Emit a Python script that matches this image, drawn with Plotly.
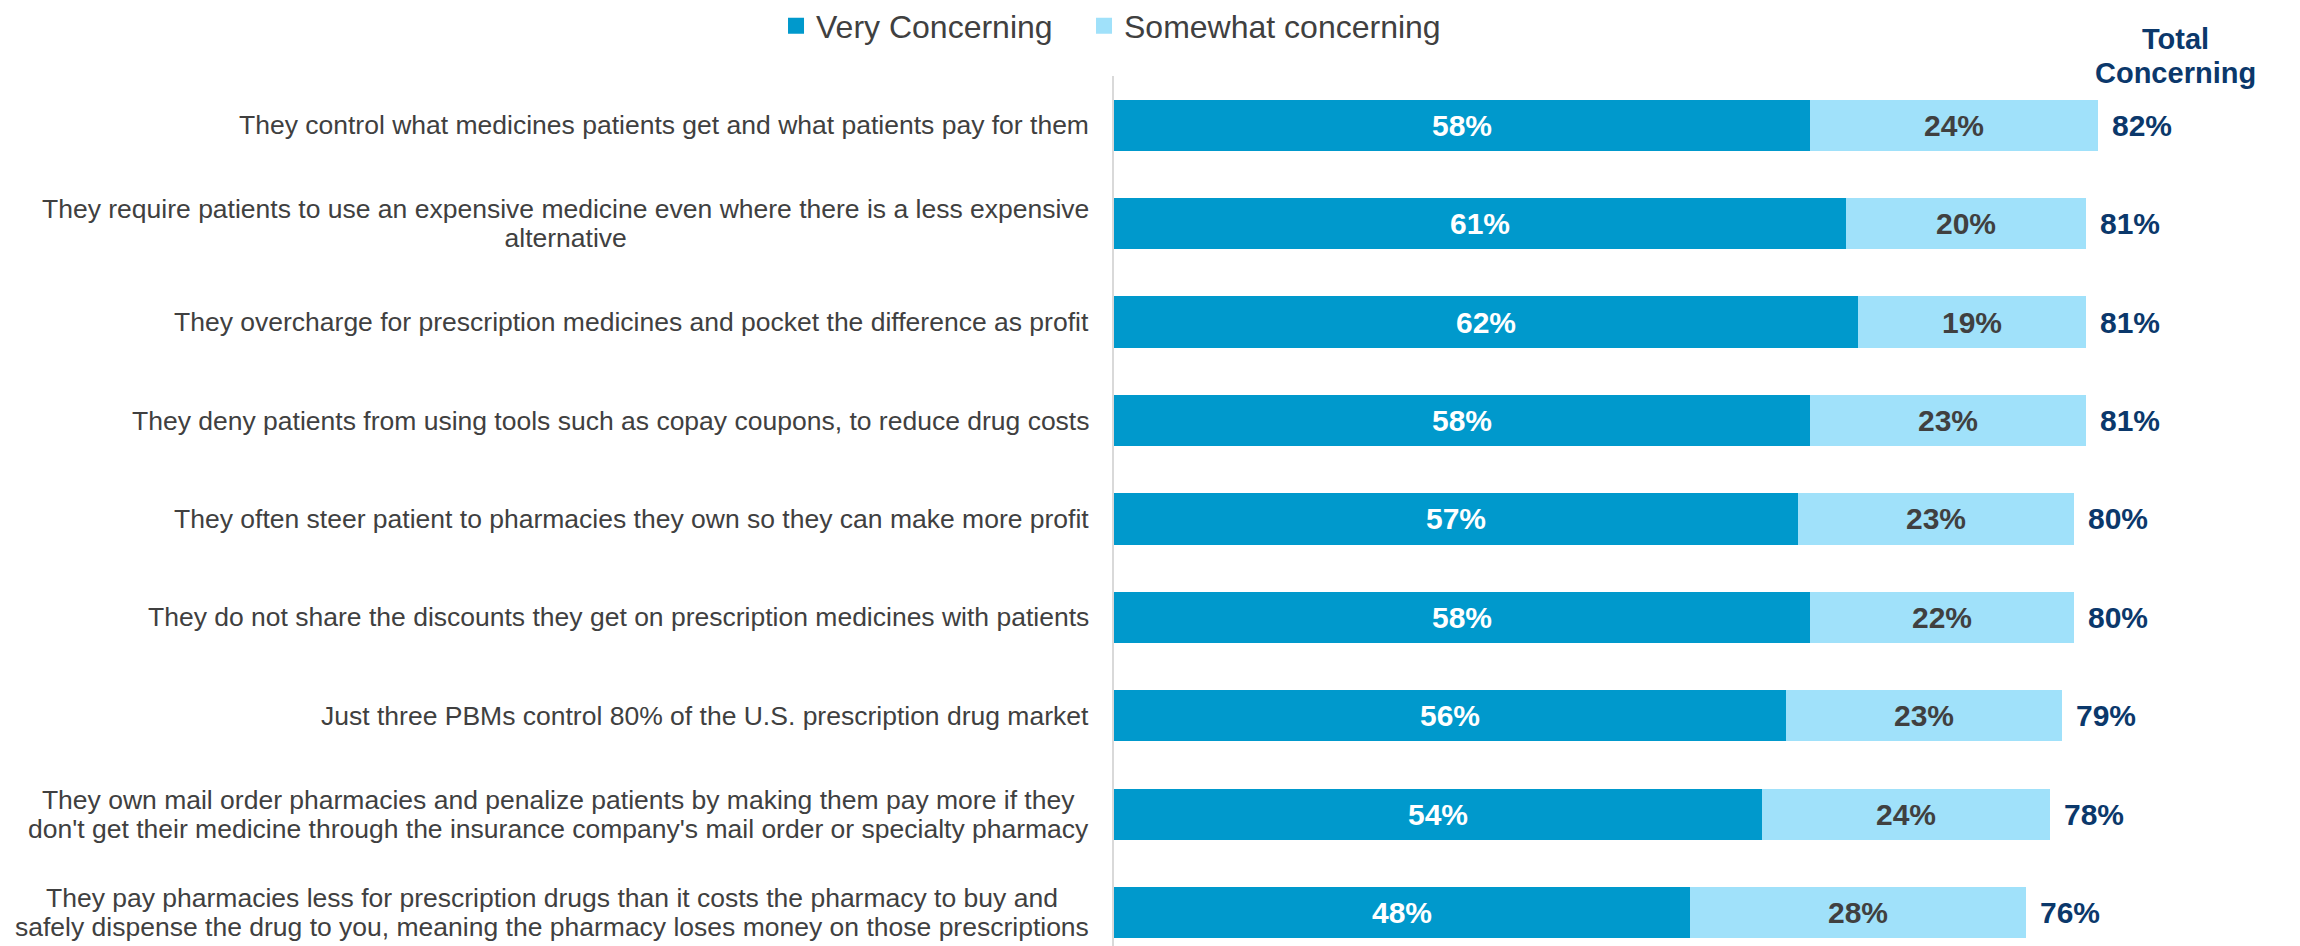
import plotly.graph_objects as go

categories = [
    "They control what medicines patients get and what patients pay for them",
    "They require patients to use an expensive medicine even where there is a less expensive<br>alternative",
    "They overcharge for prescription medicines and pocket the difference as profit",
    "They deny patients from using tools such as copay coupons, to reduce drug costs",
    "They often steer patient to pharmacies they own so they can make more profit",
    "They do not share the discounts they get on prescription medicines with patients",
    "Just three PBMs control 80% of the U.S. prescription drug market",
    "They own mail order pharmacies and penalize patients by making them pay more if they<br>don't get their medicine through the insurance company's mail order or specialty pharmacy",
    "They pay pharmacies less for prescription drugs than it costs the pharmacy to buy and<br>safely dispense the drug to you, meaning the pharmacy loses money on those prescriptions",
]
very = [58, 61, 62, 58, 57, 58, 56, 54, 48]
somewhat = [24, 20, 19, 23, 23, 22, 23, 24, 28]
total = [82, 81, 81, 81, 80, 80, 79, 78, 76]
series_names = ["Very Concerning", "Somewhat concerning"]
header = ["Total", "Concerning"]

FONT = "Liberation Sans, Arial, sans-serif"
DARK = "#0099cc"
LIGHT = "#a0e1fa"
NAVY = "#0b386b"
GRAY = "#404040"

idx = list(range(len(categories)))

fig = go.Figure()
fig.add_trace(go.Bar(
    y=idx, x=very, orientation="h", name=series_names[0], showlegend=False,
    marker=dict(color=DARK, line=dict(width=0)),
    text=[f"<b>{v}%</b>" for v in very], textposition="inside",
    insidetextanchor="middle", textangle=0,
    textfont=dict(family=FONT, size=30, color="white"),
))
fig.add_trace(go.Bar(
    y=idx, x=somewhat, orientation="h", name=series_names[1], showlegend=False,
    marker=dict(color=LIGHT, line=dict(width=0)),
    text=[f"<b>{v}%</b>" for v in somewhat], textposition="inside",
    insidetextanchor="middle", textangle=0,
    textfont=dict(family=FONT, size=30, color=GRAY),
))
# legend-only entries (square swatches)
for name, col, lg in [(series_names[0], DARK, "legend"), (series_names[1], LIGHT, "legend2")]:
    fig.add_trace(go.Scatter(
        x=[None], y=[None], mode="markers", name=name, legend=lg,
        marker=dict(symbol="square", size=16, color=col, line=dict(width=0)),
        showlegend=True,
    ))

annotations = []
for i, c in enumerate(categories):
    lines = c.split("<br>")
    styled = "<br>".join(f'<span style="font-size:26.5px">{ln}</span>' for ln in lines)
    annotations.append(dict(
        x=0, xref="paper", y=i, yref="y", xanchor="right", yanchor="middle",
        xshift=-23, text=styled, showarrow=False, align="center",
        font=dict(family=FONT, size=22, color=GRAY),
    ))
for i, t in enumerate(total):
    annotations.append(dict(
        x=t, xref="x", y=i, yref="y", xanchor="left", yanchor="middle",
        xshift=12, text=f"<b>{t}%</b>", showarrow=False,
        font=dict(family=FONT, size=30, color=NAVY),
    ))
header_text = "<br>".join(f'<span style="font-size:29px"><b>{h}</b></span>' for h in header)
annotations.append(dict(
    x=0.903, xref="paper", y=1.0228, yref="paper", xanchor="center", yanchor="middle",
    text=header_text, showarrow=False, align="center",
    font=dict(family=FONT, size=26, color=NAVY),
))

legend_common = dict(orientation="h", yanchor="middle", y=1.057, xanchor="left",
                     font=dict(family=FONT, size=32, color=GRAY),
                     bgcolor="rgba(0,0,0,0)", itemsizing="trace")

fig.update_layout(
    width=2300, height=946,
    margin=dict(l=1106, r=18, t=68, b=0, autoexpand=False),
    barmode="stack", bargap=0.48,
    plot_bgcolor="white", paper_bgcolor="white",
    font=dict(family=FONT, color=GRAY),
    xaxis=dict(range=[0, 98], showgrid=False, zeroline=False, showticklabels=False,
               showline=False, fixedrange=True, automargin=False),
    yaxis=dict(range=[8.42, -0.5], showgrid=False, zeroline=False, showticklabels=False,
               showline=True, linecolor="#d9d9d9", linewidth=2, ticks="", automargin=False),
    legend=dict(x=-0.2874, **legend_common),
    legend2=dict(x=-0.0255, **legend_common),
    annotations=annotations,
    showlegend=True,
)

fig.write_html("out.html")
